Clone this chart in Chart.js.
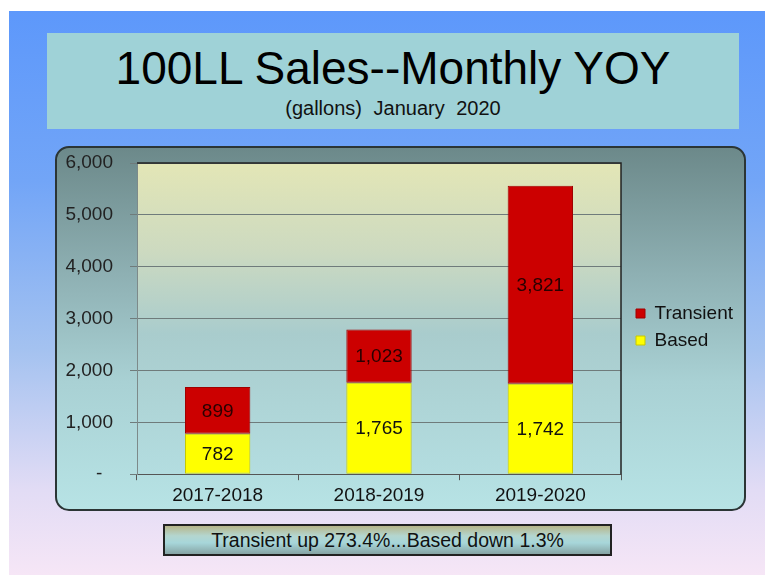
<!DOCTYPE html>
<html>
<head>
<meta charset="utf-8">
<title>100LL Sales--Monthly YOY</title>
<script src="https://cdn.jsdelivr.net/npm/chart.js@4.4.1/dist/chart.umd.min.js"></script>
<style>
  body { margin: 0; width: 765px; height: 575px; background: #fff; position: relative; overflow: hidden;
         font-family: "Liberation Sans", Arial, sans-serif; }
  #bg { position: absolute; left: 9px; top: 11px; right: 0; bottom: 0;
        background: linear-gradient(to bottom, #5d98fb 0%, #72a5f7 30%, #a4c2f0 60%, #e2dcf5 85%, #f6e6f6 100%); }
  #titlebox { position: absolute; left: 47px; top: 33px; width: 692px; height: 96px; background: #9fd2d7; text-align: center; }
  #title { position: absolute; left: 0; right: 0; top: 9px; font-size: 46px; line-height: 52px; color: #000; }
  #subtitle { position: absolute; left: 0; right: 0; top: 64px; font-size: 20px; line-height: 22px; color: #111; word-spacing: 6px; }
  #panel { position: absolute; left: 55px; top: 146px; width: 687px; height: 361px; border: 2px solid #2b3535; border-radius: 14px;
           background: linear-gradient(to bottom, #6c898a 0%, #8eb0b3 35%, #a9d1d4 65%, #b7e3e5 100%); }
  #wrap { position: absolute; left: 55px; top: 146px; width: 691px; height: 365px; }
  #note { position: absolute; left: 163px; top: 524px; width: 445px; height: 28px; border: 2px solid #222;
          background: linear-gradient(to bottom, #b6b58a 0%, #b4d6cf 35%, #a7d6da 60%, #86a4a4 100%);
          text-align: center; font-size: 19.5px; line-height: 28px; color: #111; }
</style>
</head>
<body>
<div id="bg"></div>
<div id="titlebox">
  <div id="title">100LL Sales--Monthly YOY</div>
  <div id="subtitle">(gallons) January 2020</div>
</div>
<div id="panel"></div>
<div id="wrap"><canvas id="salesChart" width="691" height="365"></canvas></div>
<div id="note">Transient up 273.4%...Based down 1.3%</div>

<script>
var categories = ['2017-2018', '2018-2019', '2019-2020'];
var basedGallons = [782, 1765, 1742];
var transientGallons = [899, 1023, 3821];
var yMax = 6000;
var yStep = 1000;

var fontFamily = '"Liberation Sans", Arial, sans-serif';

// plot area fill + dark border on top and right
var plotBg = {
  id: 'plotBg',
  afterLayout: function(chart) {
    // nudge legend to sit where the original one is
    var lg = chart.legend;
    lg.left += 7; lg.right += 7;
    lg.top -= 10; lg.bottom -= 10;
  },
  beforeDraw: function(chart) {
    var a = chart.chartArea, ctx = chart.ctx;
    var g = ctx.createLinearGradient(0, a.top, 0, a.bottom);
    g.addColorStop(0, '#e3e6b6');
    g.addColorStop(0.28, '#cddac0');
    g.addColorStop(0.55, '#a9cccd');
    g.addColorStop(1, '#b3dde0');
    ctx.save();
    ctx.fillStyle = g;
    ctx.fillRect(a.left, a.top, a.right - a.left, a.bottom - a.top);
    ctx.restore();
  },
  afterDraw: function(chart) {
    var a = chart.chartArea, ctx = chart.ctx;
    ctx.save();
    ctx.strokeStyle = '#222';
    ctx.lineWidth = 1.5;
    ctx.beginPath();
    ctx.moveTo(a.left, a.top);
    ctx.lineTo(a.right, a.top);
    ctx.lineTo(a.right, a.bottom);
    ctx.stroke();
    ctx.restore();
  }
};

// numbers in the middle of each bar segment
var barLabels = {
  id: 'barLabels',
  afterDatasetsDraw: function(chart) {
    var ctx = chart.ctx;
    ctx.save();
    ctx.font = '19px ' + fontFamily;
    ctx.textAlign = 'center';
    ctx.textBaseline = 'middle';
    chart.data.datasets.forEach(function(ds, i) {
      var meta = chart.getDatasetMeta(i);
      meta.data.forEach(function(bar, j) {
        var p = bar.getProps(['x', 'y', 'base'], true);
        ctx.fillStyle = i === 1 ? '#2a0000' : '#111';
        ctx.fillText(ds.data[j].toLocaleString('en-US'), p.x, (p.y + p.base) / 2 + 1);
      });
    });
    ctx.restore();
  }
};

new Chart(document.getElementById('salesChart'), {
  type: 'bar',
  data: {
    labels: categories,
    datasets: [{
      label: 'Based',
      data: basedGallons,
      backgroundColor: '#ffff00',
      borderColor: '#c8c800',
      borderWidth: 1,
      borderSkipped: false
    }, {
      label: 'Transient',
      data: transientGallons,
      backgroundColor: '#cc0000',
      borderColor: '#a00000',
      borderWidth: 1,
      borderSkipped: false
    }]
  },
  options: {
    responsive: false,
    animation: false,
    layout: { padding: { top: 17, right: 10, bottom: 0, left: 0 } },
    datasets: { bar: { categoryPercentage: 1, barPercentage: 0.405 } },
    plugins: {
      legend: {
        position: 'right',
        reverse: true,
        labels: {
          boxWidth: 9,
          boxHeight: 9,
          padding: 8,
          color: '#111',
          font: { size: 19, family: fontFamily }
        }
      },
      tooltip: { enabled: false }
    },
    scales: {
      x: {
        stacked: true,
        grid: { drawOnChartArea: false, drawTicks: true, tickLength: 6, color: '#555' },
        border: { color: '#555', width: 1 },
        ticks: { color: '#111', padding: 4, font: { size: 19, family: fontFamily } }
      },
      y: {
        stacked: true,
        min: 0,
        max: yMax,
        afterFit: function(scale) {
          scale.width = 82;
          scale.paddingTop = 0;
          scale.paddingBottom = 0;
        },
        grid: { color: '#6f7b7b', drawTicks: true, tickLength: 7 },
        border: { color: '#7d8a8a', width: 1 },
        ticks: {
          stepSize: yStep,
          padding: 17,
          color: '#222',
          font: { size: 19, family: fontFamily },
          callback: function(v) { return v === 0 ? '-  ' : v.toLocaleString('en-US'); }
        }
      }
    }
  },
  plugins: [plotBg, barLabels]
});
</script>
</body>
</html>
